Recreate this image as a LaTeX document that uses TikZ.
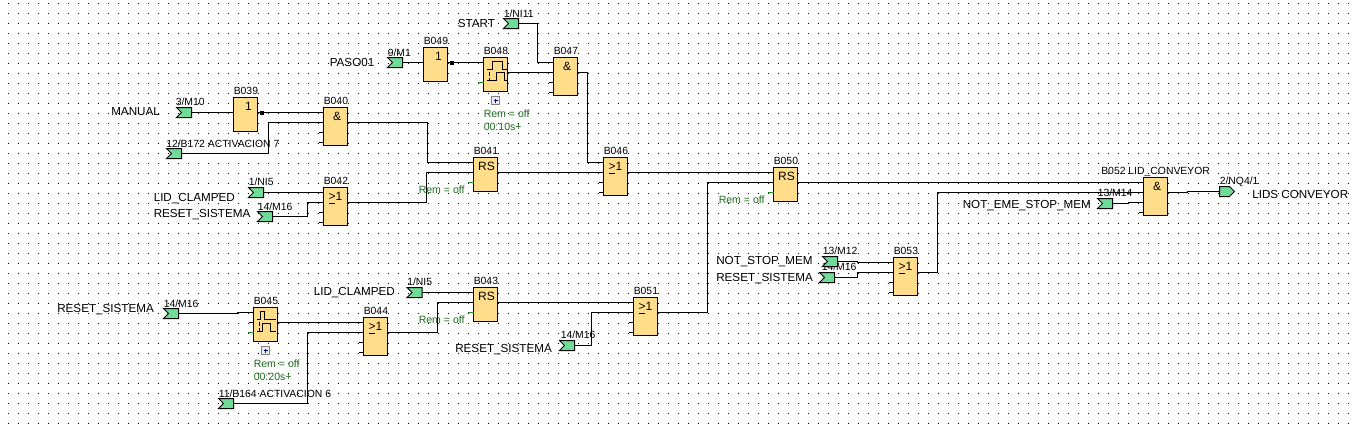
\documentclass[tikz,border=0pt]{standalone}
\usepackage{fontspec}
\setmainfont{Liberation Sans}
\usetikzlibrary{calc}
\definecolor{blkfill}{RGB}{255,221,138}
\definecolor{flagfill}{RGB}{110,220,150}
\definecolor{remgreen}{RGB}{30,105,30}
\definecolor{stubgreen}{RGB}{30,140,30}
\tikzset{
  x=0.75pt,y=-0.75pt,
  wire/.style={draw=black,line width=0.8pt},
  stubw/.style={draw=black,line width=0.75pt},
  greenw/.style={draw=stubgreen,line width=0.75pt},
  blk/.style={draw=black,fill=blkfill,line width=0.8pt,minimum width=18pt,inner sep=0pt,outer sep=0pt,anchor=north west},
  flagbox/.style={minimum width=11.25pt,minimum height=7.5pt,inner sep=0pt,outer sep=0pt,anchor=west},
  flagshape/.style={draw=black,fill=flagfill,line width=0.75pt,line join=miter},
  big/.style={anchor=base west,inner sep=0pt,font=\fontsize{8.75}{10}\selectfont},
  small/.style={anchor=base west,inner sep=0pt,font=\fontsize{7.8}{9}\selectfont},
  rem/.style={anchor=base west,inner sep=0pt,text=remgreen,font=\fontsize{7.9}{9}\selectfont},
  sym/.style={anchor=base,inner sep=0pt,font=\fontsize{9}{10}\selectfont},
  dotrow/.style={draw=black,line width=0.75pt,dash pattern=on 0.75pt off 6.75pt},
  plusbox/.style={draw=gray,fill=gray!15,line width=0.75pt,minimum width=6pt,minimum height=6pt,inner sep=0pt,outer sep=0pt,anchor=north west},
}
% name, x, y, height, symbol x offset, symbol
\newcommand{\blk}[6]{%
  \node[blk,minimum height=#4*0.75pt] (#1) at (#2,#3) {};
  \node[sym] (#1s) at ({#2+#5},{#3+13}) {#6};
  \coordinate (#1ia) at (#2,{#3+5});
  \coordinate (#1ib) at (#2,{#3+15});
  \coordinate (#1ic) at (#2,{#3+25});
  \coordinate (#1id) at (#2,{#3+35});
  \coordinate (#1o) at ({#2+24},{#3+15});
}
\newcommand{\gesym}{\rlap{\rule[-2.4pt]{5pt}{0.75pt}}>1}
% name, x, wire y
\newcommand{\flagin}[3]{%
  \node[flagbox] (#1) at (#2,#3) {};
  \draw[flagshape] (#1.north west) -- (#1.north east) -- (#1.south east) -- (#1.south west) -- ($(#1.west)+(5,0)$) -- cycle;
}
\newcommand{\stubs}[1]{\draw[stubw] (#1ic) -- ++(-5,0); \draw[stubw] (#1id) -- ++(-5,0);}
\newcommand{\outdot}[1]{\fill[black] ($(#1o)+(2,-2)$) rectangle ($(#1o)+(6.5,2.5)$);}
\begin{document}
\begin{tikzpicture}
\useasboundingbox (0,0) rectangle (1352,426);
\fill[white] (0,0) rectangle (1352,426);
\begin{scope}[shift={(0.5,0.5)}]
\foreach \r in {0,...,42} {\draw[dotrow] (7,{3+10*\r}) -- (1352,{3+10*\r});}

% texts
\node[big] (tmanual) at (110.5,115) {MANUAL};
\node[big] (tpaso) at (329,66) {PASO01};
\node[big] (tstart) at (457,26.5) {START};
\node[big] (tlida) at (153,201) {LID\_CLAMPED};
\node[big] (treseta) at (153,216.5) {RESET\_SISTEMA};
\node[big] (tresetb) at (56.5,311.5) {RESET\_SISTEMA};
\node[big] (tlidb) at (313,295) {LID\_CLAMPED};
\node[big] (tresetc) at (454.5,351.5) {RESET\_SISTEMA};
\node[big] (tnotstop) at (715.5,264) {NOT\_STOP\_MEM};
\node[big] (tresetd) at (715.5,280.5) {RESET\_SISTEMA};
\node[big] (tnoteme) at (962,208) {NOT\_EME\_STOP\_MEM};
\node[big] (tlids) at (1251.5,197.5) {LIDS CONVEYOR};

\node[small] (lm10) at (175,105) {3/M10};
\node[small] (lb172) at (165.5,146.5) {12/B172 ACTIVACION 7};
\node[small] (lm1) at (387,55.5) {9/M1};
\node[small] (lni5a) at (248,185) {1/NI5};
\node[small] (lm16a) at (257,210) {14/M16};
\node[small] (lni11) at (503,16.5) {1/NI11};
\node[small] (lm16b) at (163,306.5) {14/M16};
\node[small] (lni5b) at (406.5,285) {1/NI5};
\node[small] (lb164) at (218,396.5) {11/B164 ACTIVACION 6};
\node[small] (lm16c) at (560,338) {14/M16};
\node[small] (lm12) at (822,254) {13/M12};
\node[small] (lm16d) at (821,270) {14/M16};
\node[small] (lm14) at (1097,196) {13/M14};
\node[small] (lq4) at (1219,184) {2/NQ4/1};

\node[small] (c039) at (233,94) {B039};
\node[small] (c040) at (323,104) {B040};
\node[small] (c041) at (473,154) {B041};
\node[small] (c042) at (323,184) {B042};
\node[small] (c043) at (473,284) {B043};
\node[small] (c044) at (363,314) {B044};
\node[small] (c045) at (253,304) {B045};
\node[small] (c046) at (603,154) {B046};
\node[small] (c047) at (553,54) {B047};
\node[small] (c048) at (483,54) {B048};
\node[small] (c049) at (423,44) {B049};
\node[small] (c050) at (773,164) {B050};
\node[small] (c051) at (633,294) {B051};
\node[small] (c052) at (1100.5,174) {B052 LID\_CONVEYOR};
\node[small] (c053) at (893,254) {B053};

\node[rem] (ra) at (483,116.5) {Rem = off};
\node[rem] (rb) at (483,130) {00:10s+};
\node[rem] (rc) at (418,192.5) {Rem = off};
\node[rem] (rd) at (418,322.5) {Rem = off};
\node[rem] (re) at (718,202.5) {Rem = off};
\node[rem] (rf) at (253,366.5) {Rem = off};
\node[rem] (rg) at (253,380) {00:20s+};

% blocks
\blk{b039}{233}{97}{34}{15}{1}
\blk{b040}{323}{107}{38}{13.5}{\&}
\blk{b041}{473}{157}{34}{13}{RS}
\blk{b042}{323}{187}{38}{12}{\gesym}
\blk{b043}{473}{287}{34}{13}{RS}
\blk{b044}{363}{317}{38}{12}{\gesym}
\blk{b045}{253}{307}{34}{0}{}
\blk{b046}{603}{157}{38}{12}{\gesym}
\blk{b047}{553}{57}{38}{13.5}{\&}
\blk{b048}{483}{57}{34}{0}{}
\blk{b049}{423}{47}{34}{15}{1}
\blk{b050}{773}{167}{34}{13}{RS}
\blk{b051}{633}{297}{38}{12}{\gesym}
\blk{b052}{1143}{177}{38}{13.5}{\&}
\blk{b053}{893}{257}{38}{12}{\gesym}

% timer symbols
\draw[wire] ($(b048.north west)+(3,12)$) -- ++(6,0) -- ++(0,-8) -- ++(10,0) -- ++(0,8) -- ++(4,0);
\draw[wire] ($(b048.north west)+(3,23)$) -- ++(10,0) -- ++(0,-8) -- ++(8,0) -- ++(0,8) -- ++(2,0);
\draw[wire,dash pattern=on 3pt off 1.5pt] ($(b048.north west)+(6,14)$) -- ++(0,9);
\draw[wire] ($(b045.north west)+(3,12)$) -- ++(4,0) -- ++(0,-8) -- ++(4,0) -- ++(0,8) -- ++(11,0);
\draw[wire] ($(b045.north west)+(3,24)$) -- ++(6,0) -- ++(0,-8) -- ++(8,0) -- ++(0,8) -- ++(5,0);
\draw[wire,dash pattern=on 3pt off 1.5pt] ($(b045.north west)+(6,14)$) -- ++(0,10);

% plus boxes
\node[plusbox] (pa) at (491,96) {}; \draw[draw=blue!50!black,line width=0.75pt] ($(pa.center)+(-2,0)$) -- ($(pa.center)+(2,0)$) ($(pa.center)+(0,-2)$) -- ($(pa.center)+(0,2)$);
\node[plusbox] (pb) at (261,346) {}; \draw[draw=blue!50!black,line width=0.75pt] ($(pb.center)+(-2,0)$) -- ($(pb.center)+(2,0)$) ($(pb.center)+(0,-2)$) -- ($(pb.center)+(0,2)$);

% flags
\flagin{fm10}{176}{112}
\flagin{fb172}{166}{153}
\flagin{fm1}{387}{62}
\flagin{fni5a}{248}{192}
\flagin{fm16a}{257}{216}
\flagin{fni11}{503}{23}
\flagin{fm16b}{163}{313}
\flagin{fni5b}{406.5}{292}
\flagin{fb164}{218}{403}
\flagin{fm16c}{559}{345}
\flagin{fm12}{822}{261}
\flagin{fm16d}{819}{277}
\flagin{fm14}{1097}{203}
\node[flagbox] (fq4) at (1219,191) {};
\draw[flagshape] (fq4.north west) -- ($(fq4.north east)+(-5,0)$) -- (fq4.east) -- ($(fq4.south east)+(-5,0)$) -- (fq4.south west) -- cycle;

% wires
\draw[wire] (fm10.east) -- (b039ib);
\draw[wire] (b039o) -- (b040ia);
\outdot{b039}
\draw[wire] (fb172.east) -- (268,0 |- fb172.east) -- (268,0 |- b040ib) -- (b040ib);
\draw[wire] (b040o) -- (427,0 |- b040o) -- (427,0 |- b041ia) -- (b041ia);
\draw[wire] (b042o) -- (426,0 |- b042o) -- (426,0 |- b041ib) -- (b041ib);
\draw[wire] (fni5a.east) -- (b042ia);
\draw[wire] (fm16a.east) -- (307,0 |- fm16a.east) -- (307,0 |- b042ib) -- (b042ib);
\draw[wire] (fm1.east) -- (b049ib);
\draw[wire] (b049o) -- (b048ia);
\outdot{b049}
\draw[wire] (b048o) -- (b047ib);
\draw[wire] (fni11.east) -- (537,0 |- fni11.east) -- (537,0 |- b047ia) -- (b047ia);
\draw[wire] (b047o) -- (587,0 |- b047o) -- (587,0 |- b046ia) -- (b046ia);
\draw[wire] (b041o) -- (b046ib);
\draw[wire] (b046o) -- (b050ia);
\draw[wire] (b050o) -- (b052ia);
\draw[wire] (b051o) -- (707,0 |- b051o) -- (707,0 |- b050ib) -- (b050ib);
\draw[wire] (b043o) -- (b051ia);
\draw[wire] (fm16c.east) -- (591,0 |- fm16c.east) -- (591,0 |- b051ib) -- (b051ib);
\draw[wire] (fni5b.east) -- (b043ia);
\draw[wire] (b044o) -- (437,0 |- b044o) -- (437,0 |- b043ib) -- (b043ib);
\draw[wire] (b045o) -- (b044ia);
\draw[wire] (fb164.east) -- (307,0 |- fb164.east) -- (307,0 |- b044ib) -- (b044ib);
\draw[wire] (fm16b.east) -- (237,0 |- fm16b.east) -- (237,0 |- b045ia) -- (b045ia);
\draw[wire] (fm12.east) -- (857,0 |- fm12.east) -- (857,0 |- b053ia) -- (b053ia);
\draw[wire] (fm16d.east) -- (857,0 |- fm16d.east) -- (857,0 |- b053ib) -- (b053ib);
\draw[wire] (b053o) -- (937,0 |- b053o) -- (937,0 |- b052ib) -- (b052ib);
\draw[wire] (fm14.east) -- (1128,0 |- fm14.east) -- (1128,0 |- b052ic) -- (b052ic);
\draw[wire] (b052o) -- (1187,0 |- b052o) -- (1187,0 |- fq4.west) -- (fq4.west);

% unused pins
\stubs{b040}\stubs{b042}\stubs{b044}\stubs{b046}\stubs{b047}\stubs{b051}\stubs{b053}
\draw[stubw] (b052id) -- ++(-5,0);
\draw[stubw] (b045ib) -- ++(-5,0);
\draw[greenw] (b041ic) -- ++(-6,0);
\draw[greenw] (b043ic) -- ++(-6,0);
\draw[greenw] (b050ic) -- ++(-6,0);
\draw[greenw] (b048ic) -- ++(-6,0);
\draw[greenw] (b045ic) -- ++(-6,0);
\end{scope}
\end{tikzpicture}
\end{document}
